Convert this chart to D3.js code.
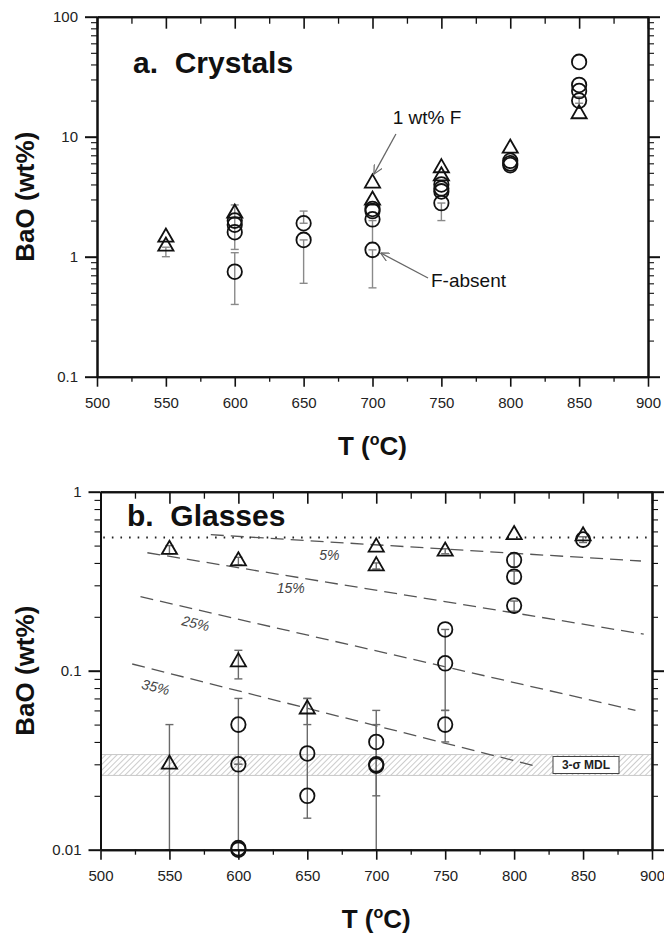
<!DOCTYPE html>
<html>
<head>
<meta charset="utf-8">
<script src="https://cdn.jsdelivr.net/npm/d3@7"></script>
<style>
body { margin: 0; background: #fff; }
text { font-family: "Liberation Sans", Arial, sans-serif; }
</style>
</head>
<body>
<svg id="fig" width="664" height="933"></svg>
<script>
// ---- data ----
var tMajor = [500, 550, 600, 650, 700, 750, 800, 850, 900];
var tMinor = [525, 575, 625, 675, 725, 775, 825, 875];

// a. Crystals   [T, BaO wt%]
var crysTri = [[550,1.45],[550,1.22],[600,2.3],[700,4.1],[700,2.95],[750,5.5],[750,4.7],[800,8.0],[850,15.5]];
var crysCirc = [[600,2.0],[600,1.85],[600,1.6],[600,0.75],[650,1.9],[650,1.38],[700,2.5],[700,2.4],[700,2.05],[700,1.14],
                [750,4.0],[750,3.7],[750,3.5],[750,2.8],[800,6.3],[800,6.0],[800,5.8],[850,42],[850,27],[850,24],[850,20]];
// error bars [T, low, high]
var crysErr = [[550,1.0,1.2],[600,1.15,2.7],[600,0.4,1.08],[650,1.9,2.4],[650,0.6,1.38],[700,1.3,2.0],[700,0.55,1.14],[750,2.0,2.8],[850,19,21.5]];
var crysTicks = [0.1, 1, 10, 100];

// b. Glasses
var glassTri = [[550,0.475],[600,0.41],[600,0.112],[650,0.061],[700,0.49],[700,0.385],[750,0.465],[800,0.575],[850,0.565],[550,0.03]];
var glassCirc = [[600,0.05],[600,0.03],[600,0.01],[600,0.0102],[650,0.0345],[650,0.02],[700,0.04],[700,0.03],[700,0.0295],
                 [750,0.17],[750,0.11],[750,0.05],[800,0.415],[800,0.335],[800,0.231],[850,0.54]];
var glassErr = [[550,0.01,0.05],[600,0.09,0.13],[600,0.03,0.07],[600,0.01,0.03],[650,0.05,0.07],[650,0.015,0.07],
                [700,0.02,0.05],[700,0.01,0.06],[750,0.06,0.17],[750,0.04,0.06],[800,0.38,0.45],[800,0.31,0.36],
                [800,0.215,0.245],[550,0.45,0.5],[600,0.39,0.43],[700,0.37,0.40],[750,0.45,0.48],[850,0.52,0.56]];
var glassTicks = [0.01, 0.1, 1];
// dashed isopleths: label, start T, start BaO, end T, end BaO, label T, label BaO
var isoLabel = ["5%", "15%", "25%", "35%"];
var isoLine = [[580,0.575,892,0.41],[534,0.456,894,0.16],[529,0.259,888,0.06],[523,0.109,818,0.029]];
var isoLabelAt = [[666,0.443],[638,0.29],[569,0.184],[540,0.081]];
var fSat = 0.555;          // dotted line
var mdl = [0.026, 0.034];  // 3-sigma MDL band

var svg = d3.select('#fig');

var defs = svg.append('defs');
defs.append('pattern')
    .attr('id', 'hatch')
    .attr('patternUnits', 'userSpaceOnUse')
    .attr('width', 4).attr('height', 4)
    .attr('patternTransform', 'rotate(45)')
  .append('line')
    .attr('x1', 0).attr('y1', 0).attr('x2', 0).attr('y2', 4)
    .attr('stroke', '#9a9a9a').attr('stroke-width', 1);
defs.append('marker')
    .attr('id', 'arr')
    .attr('viewBox', '0 0 10 10')
    .attr('refX', 10).attr('refY', 5)
    .attr('markerWidth', 9).attr('markerHeight', 9)
    .attr('markerUnits', 'userSpaceOnUse')
    .attr('orient', 'auto')
  .append('path')
    .attr('d', 'M0,0 L10,5 L0,10')
    .attr('fill', 'none').attr('stroke', '#666').attr('stroke-width', 1.3);

function minorLog(dom) {
  var out = [];
  for (var e = Math.round(Math.log10(dom[0])); e < Math.round(Math.log10(dom[1])); e++)
    for (var m = 2; m <= 9; m++) out.push(m * Math.pow(10, e));
  return out;
}

function panel(o) {
  var x = d3.scaleLinear().domain([500, 900]).range([o.left, o.right]);
  var y = d3.scaleLog().domain(o.ydom).range([o.bottom, o.top]);
  var g = svg.append('g');

  var axes = g.append('g').attr('class', 'axes');
  function styleAxis(sel, w) {
    sel.select('.domain').attr('stroke', '#111').attr('stroke-width', 2);
    sel.selectAll('.tick line').attr('stroke', '#111').attr('stroke-width', w);
    sel.selectAll('.tick text').attr('font-size', 15).attr('fill', '#222')
       .attr('font-family', '"Liberation Sans", Arial, sans-serif');
  }
  var fmtY = function(d) { return d >= 1 ? d3.format('d')(d) : String(d); };

  // bottom
  axes.append('g').attr('transform', 'translate(0,' + o.bottom + ')')
    .call(d3.axisBottom(x).tickValues(tMajor).tickSize(10).tickPadding(11).tickSizeOuter(0).tickFormat(d3.format('d')))
    .call(styleAxis, 1.6);
  axes.append('g').attr('transform', 'translate(0,' + o.bottom + ')')
    .call(d3.axisBottom(x).tickValues(tMinor).tickSize(5).tickSizeOuter(0).tickFormat(''))
    .call(styleAxis, 1.3);
  // top (ticks inward)
  axes.append('g').attr('transform', 'translate(0,' + o.top + ')')
    .call(d3.axisBottom(x).tickValues(tMajor).tickSize(12).tickSizeOuter(0).tickFormat(''))
    .call(styleAxis, 1.6);
  axes.append('g').attr('transform', 'translate(0,' + o.top + ')')
    .call(d3.axisBottom(x).tickValues(tMinor).tickSize(7).tickSizeOuter(0).tickFormat(''))
    .call(styleAxis, 1.3);
  // left
  axes.append('g').attr('transform', 'translate(' + o.left + ',0)')
    .call(d3.axisLeft(y).tickValues(o.yticks).tickSize(12).tickPadding(7).tickSizeOuter(0).tickFormat(fmtY))
    .call(styleAxis, 2);
  axes.append('g').attr('transform', 'translate(' + o.left + ',0)')
    .call(d3.axisLeft(y).tickValues(minorLog(o.ydom)).tickSize(6).tickSizeOuter(0).tickFormat(''))
    .call(styleAxis, 1.1);
  // right
  axes.append('g').attr('transform', 'translate(' + o.right + ',0)')
    .call(d3.axisRight(y).tickValues(o.yticks).tickSize(12).tickSizeOuter(0).tickFormat(''))
    .call(styleAxis, 2);
  axes.append('g').attr('transform', 'translate(' + o.right + ',0)')
    .call(d3.axisRight(y).tickValues(minorLog(o.ydom)).tickSize(6).tickSizeOuter(0).tickFormat(''))
    .call(styleAxis, 1.1);

  var marks = g.insert('g', '.axes');

  // error bars
  var eb = marks.selectAll('g.err').data(o.err).enter().append('g')
      .attr('stroke', o.errColor).attr('stroke-width', 1.4);
  eb.append('line')
    .attr('x1', function(d) { return x(d[0]); }).attr('x2', function(d) { return x(d[0]); })
    .attr('y1', function(d) { return y(d[1]); }).attr('y2', function(d) { return y(d[2]); });
  eb.append('line')
    .attr('x1', function(d) { return x(d[0]) - 4; }).attr('x2', function(d) { return x(d[0]) + 4; })
    .attr('y1', function(d) { return y(d[1]); }).attr('y2', function(d) { return y(d[1]); });
  eb.append('line')
    .attr('x1', function(d) { return x(d[0]) - 4; }).attr('x2', function(d) { return x(d[0]) + 4; })
    .attr('y1', function(d) { return y(d[2]); }).attr('y2', function(d) { return y(d[2]); });

  // triangles
  var tri = d3.symbol().type(d3.symbolTriangle).size(100);
  marks.selectAll('path.tri').data(o.tri).enter().append('path')
    .attr('d', tri)
    .attr('transform', function(d) { return 'translate(' + x(d[0]) + ',' + y(d[1]) + ')'; })
    .attr('fill', 'none').attr('stroke', '#111').attr('stroke-width', 1.8);
  // circles
  marks.selectAll('ellipse').data(o.circ).enter().append('ellipse')
    .attr('cx', function(d) { return x(d[0]); })
    .attr('cy', function(d) { return y(d[1]); })
    .attr('rx', 7.2).attr('ry', 7.4)
    .attr('fill', 'none').attr('stroke', '#111').attr('stroke-width', 1.8);

  // title
  g.append('text').attr('x', o.titleX).attr('y', o.titleY)
    .attr('font-size', 30).attr('font-weight', 'bold').attr('fill', '#111')
    .attr('xml:space', 'preserve').text(o.title);

  // axis titles
  var xt = g.append('text')
    .attr('x', (o.left + o.right) / 2).attr('y', o.xTitleY)
    .attr('text-anchor', 'middle').attr('font-size', 26).attr('font-weight', 'bold').attr('fill', '#111');
  xt.append('tspan').text('T (');
  xt.append('tspan').attr('font-size', 16).attr('dy', -10).text('o');
  xt.append('tspan').attr('dy', 10).text('C)');

  g.append('text')
    .attr('transform', 'translate(34,' + (o.top + o.bottom) / 2 + ') rotate(-90)')
    .attr('text-anchor', 'middle').attr('font-size', 26).attr('font-weight', 'bold').attr('fill', '#111')
    .text('BaO (wt%)');

  return { x: x, y: y, g: g, marks: marks };
}

// ---- panel a ----
var pa = panel({
  left: 97, right: 648, top: 16.7, bottom: 376.7, ydom: [0.1, 100], yticks: crysTicks,
  tri: crysTri, circ: crysCirc, err: crysErr, errColor: '#8a8a8a',
  title: 'a.  Crystals', titleX: 133, titleY: 73, xTitleY: 455
});

pa.g.append('text').attr('x', 427).attr('y', 124).attr('text-anchor', 'middle')
  .attr('font-size', 19).attr('fill', '#111').text('1 wt% F');
pa.g.append('line')
  .attr('x1', pa.x(717)).attr('y1', 134).attr('x2', pa.x(701)).attr('y2', pa.y(4.1) - 9)
  .attr('stroke', '#666').attr('stroke-width', 1.3).attr('marker-end', 'url(#arr)');
pa.g.append('text').attr('x', 431).attr('y', 287)
  .attr('font-size', 19).attr('fill', '#111').text('F-absent');
pa.g.append('line')
  .attr('x1', 428).attr('y1', 278).attr('x2', pa.x(700) + 8).attr('y2', pa.y(1.14) + 3)
  .attr('stroke', '#666').attr('stroke-width', 1.3).attr('marker-end', 'url(#arr)');

// ---- panel b ----
var pb = panel({
  left: 100.5, right: 652, top: 491.7, bottom: 849.7, ydom: [0.01, 1], yticks: glassTicks,
  tri: glassTri, circ: glassCirc, err: glassErr, errColor: '#6a6a6a',
  title: 'b.  Glasses', titleX: 127, titleY: 526, xTitleY: 928
});

var under = pb.g.insert('g', ':first-child');
// MDL band
under.append('rect')
  .attr('x', pb.x(500)).attr('width', pb.x(900) - pb.x(500))
  .attr('y', pb.y(mdl[1])).attr('height', pb.y(mdl[0]) - pb.y(mdl[1]))
  .attr('fill', 'url(#hatch)').attr('stroke', '#c8c8c8').attr('stroke-width', 1);
// dotted saturation line
under.append('line')
  .attr('x1', pb.x(502)).attr('x2', pb.x(898)).attr('y1', pb.y(fSat)).attr('y2', pb.y(fSat))
  .attr('stroke', '#222').attr('stroke-width', 2).attr('stroke-dasharray', '1.6,7');
// isopleths
under.selectAll('line.iso').data(isoLine).enter().append('line')
  .attr('x1', function(d) { return pb.x(d[0]); }).attr('y1', function(d) { return pb.y(d[1]); })
  .attr('x2', function(d) { return pb.x(d[2]); }).attr('y2', function(d) { return pb.y(d[3]); })
  .attr('stroke', '#555').attr('stroke-width', 1.3).attr('stroke-dasharray', '13,7');
under.selectAll('text.iso').data(isoLabelAt).enter().append('text')
  .attr('transform', function(d, i) {
    var l = isoLine[i];
    var ang = i >= 2 ? Math.atan2(pb.y(l[3]) - pb.y(l[1]), pb.x(l[2]) - pb.x(l[0])) * 180 / Math.PI : 0;
    return 'translate(' + pb.x(d[0]) + ',' + pb.y(d[1]) + ') rotate(' + ang + ')';
  })
  .attr('text-anchor', 'middle').attr('dy', '0.35em')
  .attr('font-size', 14).attr('font-style', 'italic').attr('fill', '#444')
  .text(function(d, i) { return isoLabel[i]; });

// MDL label box
var mx = 586, my = pb.y(Math.sqrt(mdl[0] * mdl[1]));
pb.g.append('rect').attr('x', mx - 33).attr('y', my - 8.5).attr('width', 66).attr('height', 17)
  .attr('fill', '#fff').attr('stroke', '#444').attr('stroke-width', 1);
pb.g.append('text').attr('x', mx).attr('y', my + 4.5).attr('text-anchor', 'middle')
  .attr('font-size', 12).attr('font-weight', 'bold').attr('fill', '#222').text('3-σ MDL');
</script>
</body>
</html>
